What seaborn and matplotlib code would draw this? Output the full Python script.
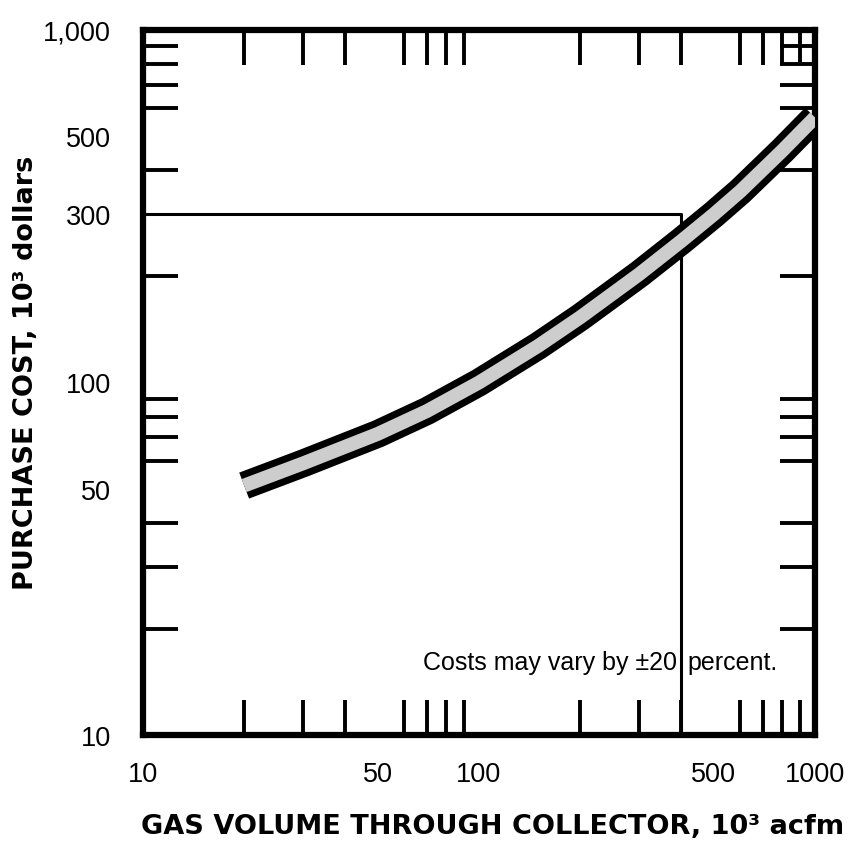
import numpy as np
import pandas as pd
import matplotlib
matplotlib.use('Agg')
import matplotlib.pyplot as plt
import seaborn as sns
from matplotlib.ticker import FixedLocator, FixedFormatter, NullFormatter

# Purchase cost curve (band centre)
gas_volume = [20, 30, 50, 70, 100, 150, 200, 300, 400, 500, 600, 800, 1000]   # 10^3 acfm
purchase_cost = [51, 59, 71.5, 83, 100, 127, 153, 203, 252, 300, 349, 455, 565]  # 10^3 dollars

# Worked example lines
ref_volume = 400
ref_cost = 300

# Axis labels / ticks
x_label_values = [10, 50, 100, 500, 1000]
x_label_text = ['10', '50', '100', '500', '1000']
y_label_values = [10, 50, 100, 300, 500, 1000]
y_label_text = ['10', '50', '100', '300', '500', '1,000']
x_marks = [20, 30, 40, 50, 60, 70, 80, 90, 100, 200, 300, 400, 500, 600, 700, 800, 900]
y_marks = [20, 30, 40, 50, 60, 70, 80, 90, 100, 200, 300, 400, 500, 600, 700, 800, 900]

note_left = 'Costs may vary by \u00b120'
note_right = 'percent.'

sns.set_theme(style='white')
plt.rcParams['font.family'] = ['Liberation Sans', 'DejaVu Sans']
plt.rcParams['text.color'] = 'black'
plt.rcParams['axes.labelcolor'] = 'black'
plt.rcParams['xtick.color'] = 'black'
plt.rcParams['ytick.color'] = 'black'

df = pd.DataFrame({'volume': gas_volume, 'cost': purchase_cost})

fig = plt.figure(figsize=(8.56, 8.45), dpi=100)
ax = fig.add_axes([143 / 856, 109 / 845, 672 / 856, 705 / 845])
ax.set_xscale('log')
ax.set_yscale('log')
ax.set_xlim(10, 1000)
ax.set_ylim(10, 1000)

# thick black band with a light mottled-looking core
sns.lineplot(data=df, x='volume', y='cost', ax=ax, color='black', lw=20,
             solid_capstyle='butt', solid_joinstyle='round', zorder=3)
sns.lineplot(data=df, x='volume', y='cost', ax=ax, color='#cdcdcd', lw=10,
             solid_capstyle='butt', solid_joinstyle='round', zorder=4)

# worked example: 400 x 10^3 acfm -> 300 x 10^3 dollars
ax.plot([ax.get_xlim()[0], ref_volume, ref_volume], [ref_cost, ref_cost, ax.get_ylim()[0]],
        color='black', lw=2.2, zorder=2)

# frame
for sp in ax.spines.values():
    sp.set_visible(True)
    sp.set_color('black')
    sp.set_linewidth(4.5)

# labelled ticks (no marks)
ax.xaxis.set_major_locator(FixedLocator(x_label_values))
ax.xaxis.set_major_formatter(FixedFormatter(x_label_text))
ax.yaxis.set_major_locator(FixedLocator(y_label_values))
ax.yaxis.set_major_formatter(FixedFormatter(y_label_text))
ax.tick_params(which='major', length=0, labelsize=19.5)
ax.tick_params(axis='x', which='major', pad=19)
ax.tick_params(axis='y', which='major', pad=23)

# inward tick marks on all four sides
ax.xaxis.set_minor_locator(FixedLocator(x_marks))
ax.xaxis.set_minor_formatter(NullFormatter())
ax.yaxis.set_minor_locator(FixedLocator(y_marks))
ax.yaxis.set_minor_formatter(NullFormatter())
ax.tick_params(which='minor', direction='in', length=25, width=2.8, color='black',
               top=True, bottom=True, left=True, right=True)

# note, split either side of the 400 line as in the original
ax.text(0.795, 0.103, note_left, transform=ax.transAxes, fontsize=18, ha='right', va='center', zorder=5)
ax.text(0.81, 0.103, note_right, transform=ax.transAxes, fontsize=18, ha='left', va='center', zorder=5)

ax.set_xlabel('GAS VOLUME THROUGH COLLECTOR, 10\u00b3 acfm', fontsize=19.5, fontweight='bold',
              family=['DejaVu Sans'])
ax.set_ylabel('PURCHASE COST, 10\u00b3 dollars', fontsize=19.5, fontweight='bold',
              family=['DejaVu Sans'])
ax.xaxis.set_label_coords(0.52, -0.11)
ax.yaxis.set_label_coords(-0.155, 0.515)

fig.savefig('out.png', dpi=100)
